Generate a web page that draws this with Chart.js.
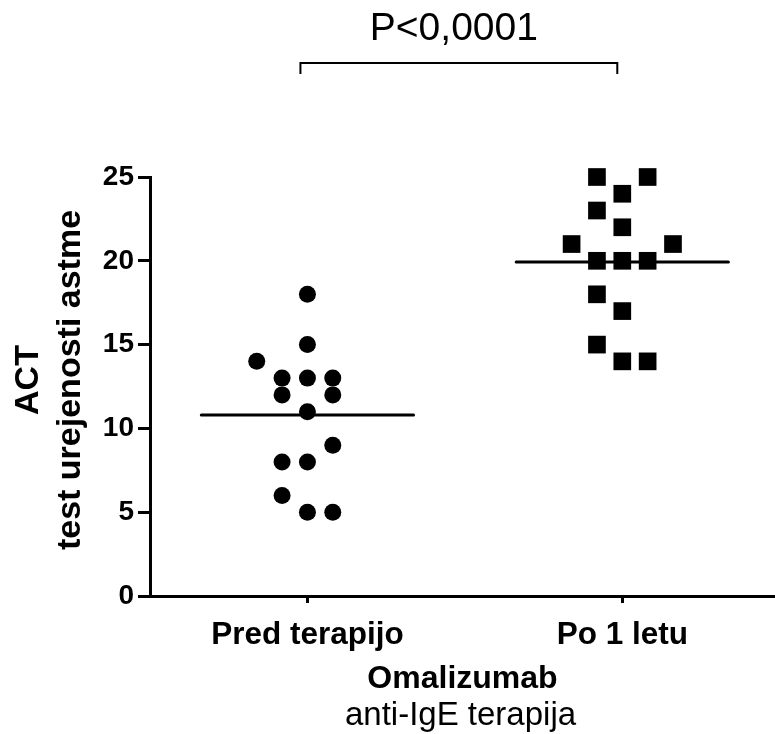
<!DOCTYPE html>
<html>
<head>
<meta charset="utf-8">
<script src="https://cdn.jsdelivr.net/npm/chart.js@4.4.1/dist/chart.umd.min.js"></script>
<style>
  html, body { margin: 0; padding: 0; background: #fff; }
</style>
</head>
<body>
<canvas id="actChart" width="775" height="734"></canvas>
<script>
// ACT scores before / after one year of omalizumab
const groups = ['Pred terapijo', 'Po 1 letu'];
const preValues = [18, 15, 14, 13, 13, 13, 12, 12, 11, 9, 8, 8, 6, 5, 5];
const preSlots = [0, 0, -2, -1, 0, 1, -1, 1, 0, 1, -1, 0, -1, 0, 1];
const postValues = [25, 25, 24, 23, 22, 21, 21, 20, 20, 20, 18, 17, 15, 14, 14];
const postSlots = [-1, 1, 0, -1, 0, -2, 2, -1, 0, 1, -1, 0, -1, 0, 1];
const yTicks = [0, 5, 10, 15, 20, 25];
const pLabel = 'P<0,0001';
const yTitle = ['ACT', 'test urejenosti astme'];
const xTitle = 'Omalizumab';
const xSubTitle = 'anti-IgE terapija';

const slotWidth = 0.0805;   // horizontal spread of equal values
const meanHalf = 0.337;     // half length of the mean line
const FONT = '"Liberation Sans", Arial, sans-serif';

function points(values, slots, group) {
    return values.map((v, i) => ({ x: group + slots[i] * slotWidth, y: v }));
}
function mean(values) {
    return values.reduce((a, b) => a + b, 0) / values.length;
}
function meanLine(values, group) {
    const m = mean(values);
    return [{ x: group - meanHalf, y: m }, { x: group + meanHalf, y: m }];
}

const annotations = {
    id: 'annotations',
    afterDraw(chart) {
        const ctx = chart.ctx;
        const xs = chart.scales.x;
        const x0 = xs.getPixelForValue(0) - 7;
        const x1 = xs.getPixelForValue(1) - 5;
        ctx.save();
        // bracket + p value
        ctx.strokeStyle = '#000';
        ctx.lineWidth = 2;
        ctx.beginPath();
        ctx.moveTo(x0, 74);
        ctx.lineTo(x0, 63);
        ctx.lineTo(x1, 63);
        ctx.lineTo(x1, 74);
        ctx.stroke();
        ctx.fillStyle = '#000';
        ctx.textAlign = 'center';
        ctx.textBaseline = 'middle';
        ctx.font = '39px ' + FONT;
        ctx.fillText(pLabel, (x0 + x1) / 2 - 5, 29);
        // second line of the x title
        ctx.font = '33px ' + FONT;
        ctx.fillText(xSubTitle, (xs.left + xs.right) / 2 - 2, 716);
        // y title, two bold lines
        ctx.translate(0, 380);
        ctx.rotate(-Math.PI / 2);
        ctx.font = 'bold 34px ' + FONT;
        ctx.fillText(yTitle[0], 0, 29);
        ctx.fillText(yTitle[1], 0, 71);
        ctx.restore();
    }
};

function noPad(scale) {
    scale.paddingLeft = 0;
    scale.paddingRight = 0;
    scale.paddingTop = 0;
    scale.paddingBottom = 0;
}

const ctx = document.getElementById('actChart').getContext('2d');
new Chart(ctx, {
    type: 'scatter',
    data: {
        datasets: [
            {
                label: groups[0],
                data: points(preValues, preSlots, 0),
                pointStyle: 'circle',
                pointRadius: 8.5,
                pointBorderWidth: 0,
                backgroundColor: '#000',
                borderColor: '#000',
                clip: false
            },
            {
                label: groups[1],
                data: points(postValues, postSlots, 1),
                pointStyle: 'rect',
                pointRadius: 12.5,
                pointBorderWidth: 0,
                backgroundColor: '#000',
                borderColor: '#000',
                clip: false
            },
            {
                type: 'line',
                label: 'mean pre',
                data: meanLine(preValues, 0),
                borderColor: '#000',
                borderWidth: 3,
                pointRadius: 0,
                borderCapStyle: 'round'
            },
            {
                type: 'line',
                label: 'mean post',
                data: meanLine(postValues, 1),
                borderColor: '#000',
                borderWidth: 3,
                pointRadius: 0,
                borderCapStyle: 'round'
            }
        ]
    },
    options: {
        responsive: false,
        animation: false,
        layout: {
            autoPadding: false,
            padding: { top: 177, left: 0, right: 0, bottom: 0 }
        },
        plugins: {
            legend: { display: false },
            tooltip: { enabled: false }
        },
        scales: {
            x: {
                type: 'linear',
                min: -0.5,
                max: 1.485,
                afterFit: function(scale) { scale.height = 138; noPad(scale); },
                afterBuildTicks: function(scale) {
                    scale.ticks = groups.map((g, i) => ({ value: i }));
                },
                border: { display: true, color: '#000', width: 3 },
                grid: {
                    drawOnChartArea: false,
                    drawTicks: true,
                    tickLength: 7,
                    tickWidth: 3,
                    tickColor: '#000'
                },
                ticks: {
                    color: '#000',
                    padding: 13,
                    maxRotation: 0,
                    font: { family: FONT, size: 31.5, weight: 'bold' },
                    callback: function(value) { return groups[value]; }
                },
                title: {
                    display: true,
                    text: xTitle,
                    color: '#000',
                    font: { family: FONT, size: 32, weight: 'bold' },
                    padding: { top: 0, bottom: 36 }
                }
            },
            y: {
                min: 0,
                max: 25,
                afterFit: function(scale) { scale.width = 150; noPad(scale); },
                afterBuildTicks: function(scale) {
                    scale.ticks = yTicks.map(v => ({ value: v }));
                },
                border: { display: true, color: '#000', width: 3 },
                grid: {
                    drawOnChartArea: false,
                    drawTicks: true,
                    tickLength: 12,
                    tickWidth: 3,
                    tickColor: '#000'
                },
                ticks: {
                    color: '#000',
                    padding: 4,
                    font: { family: FONT, size: 28, weight: 'bold' }
                }
            }
        }
    },
    plugins: [annotations]
});
</script>
</body>
</html>
